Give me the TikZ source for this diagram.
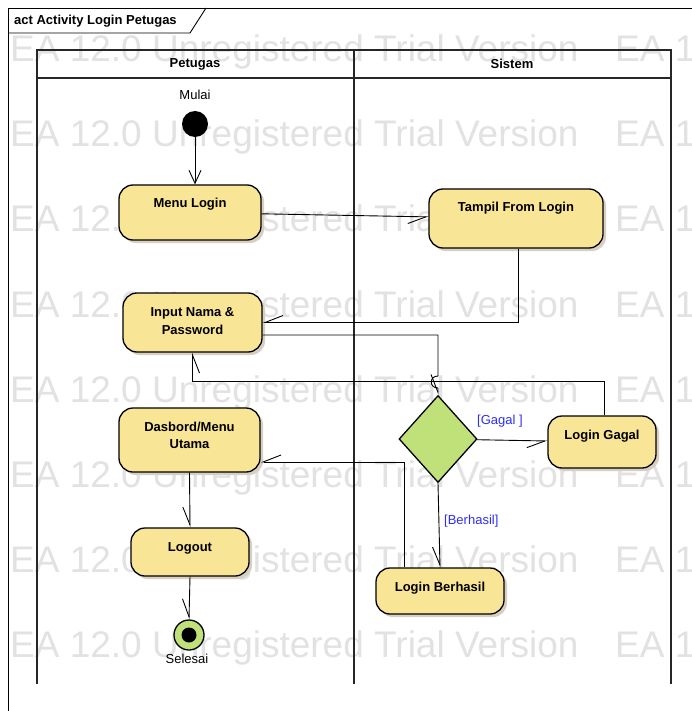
\documentclass[tikz,border=0pt]{standalone}
\usepackage{fontspec}
\newfontfamily\arialf{Liberation Sans}
\usetikzlibrary{arrows.meta,shadows,shapes.geometric}
\definecolor{actfill}{RGB}{249,229,150}
\definecolor{decfill}{RGB}{192,224,122}
\definecolor{shadowc}{RGB}{214,207,196}
\definecolor{wmc}{RGB}{226,226,226}
\definecolor{guardc}{RGB}{45,45,255}
\begin{document}
\begin{tikzpicture}[x=1pt,y=-1pt,
  act/.style={draw=black, line width=1.3pt, fill=actfill, rounded corners=14pt, inner sep=0pt,
    drop shadow={shadow xshift=3pt, shadow yshift=-3pt, fill=shadowc, opacity=1}},
  acttext/.style={font=\arialf\bfseries\fontsize{13}{17.5}\selectfont, align=center, inner sep=0pt},
  plain/.style={font=\arialf\fontsize{13}{16}\selectfont, inner sep=0pt},
  guard/.style={font=\arialf\fontsize{13}{16}\selectfont, text=guardc, inner sep=0pt},
  wm/.style={font=\arialf\fontsize{37}{37}\selectfont, text=wmc, inner sep=0pt, anchor=base west},
  lane/.style={draw=black!85, line width=1.3pt},
  frame/.style={draw=black, line width=0.9pt},
  flow/.style={draw=black, line width=0.9pt, -{Straight Barb[harpoon, swap, length=18pt, width=14pt]}},
  startflow/.style={draw=black, line width=0.9pt, -{Straight Barb[length=13pt, width=12pt]}}
]
\fill[white] (0,0) rectangle (692,711);
\useasboundingbox (0,0) rectangle (692,711);

% watermark
\foreach \i in {0,...,7} {
  \node[wm] (wmA\i) at (10,{62+85*\i}) {EA 12.0 Unregistered Trial Version};
  \node[wm] (wmB\i) at (615,{62+85*\i}) {EA 1};
}

% frame
\draw[frame] (8,711) -- (8,8) -- (692,8);
\draw[frame] (8,33) -- (190,33) -- (206,8);
\node[font=\arialf\bfseries\fontsize{13}{16}\selectfont, anchor=west, inner sep=0pt] (title) at (14,21) {act Activity Login Petugas};

% lanes
\draw[lane] (37,684) -- (37,50) -- (671,50) -- (671,684);
\draw[lane] (354,50) -- (354,684);
\draw[lane] (37,78) -- (671,78);
\node[font=\arialf\bfseries\fontsize{13}{16}\selectfont, inner sep=0pt] (lane1) at (195,64) {Petugas};
\node[font=\arialf\bfseries\fontsize{13}{16}\selectfont, inner sep=0pt] (lane2) at (512,64) {Sistem};

% initial
\node[plain] (mulai) at (195,95) {Mulai};
\node[circle, fill=black, minimum size=26pt, inner sep=0pt] (init) at (195,124) {};

% activities
\node[act, minimum width=142pt, minimum height=55pt] (menu) at (190,212.5) {};
\node[acttext] (menuT) at (190,204) {Menu Login};
\node[act, minimum width=174pt, minimum height=59pt] (tampil) at (516,218.5) {};
\node[acttext] (tampilT) at (516,208) {Tampil From Login};
\node[act, minimum width=139pt, minimum height=59pt] (input) at (192.5,322.5) {};
\node[acttext] (inputT) at (192.5,321) {Input Nama \&\\Password};
\node[act, minimum width=141pt, minimum height=64pt] (dasbord) at (189.5,440) {};
\node[acttext] (dasbordT) at (189.5,435.5) {Dasbord/Menu\\Utama};
\node[act, minimum width=118pt, minimum height=48pt] (logout) at (190,552) {};
\node[acttext] (logoutT) at (190,548) {Logout};
\node[act, minimum width=108pt, minimum height=52pt] (gagal) at (602,442) {};
\node[acttext] (gagalT) at (602,436) {Login Gagal};
\node[act, minimum width=128pt, minimum height=46pt] (berhasil) at (440,591) {};
\node[acttext] (berhasilT) at (440,588) {Login Berhasil};

% decision
\node[diamond, draw=black, line width=1.3pt, fill=decfill, minimum width=78pt, minimum height=87pt, inner sep=0pt] (dec) at (438,439) {};

% final
\node[circle, draw=black, line width=1.3pt, fill=decfill, minimum size=30pt, inner sep=0pt] (final) at (189,635) {};
\node[circle, fill=black, minimum size=15pt, inner sep=0pt] (finalIn) at (189,635) {};
\node[plain] (selesai) at (187,659) {Selesai};

% guards
\node[guard, anchor=west] (gg) at (477,421) {[Gagal ]};
\node[guard, anchor=west] (gb) at (444,521) {[Berhasil]};

% connectors
\coordinate (hopA) at (438,376);
\coordinate (hopB) at (438,388);
\draw[startflow] (init.south) -- (init.south |- menu.north);
\draw[flow] (menu) -- (tampil);
\draw[flow] ([xshift=2pt]tampil.south) |- (input.east);
\draw[flow] ([yshift=-12.5pt]input.east) -| (hopA) .. controls (429,376) and (429,388) .. (hopB) -- (dec.north);
\draw[flow] (dec) -- (gagal);
\draw[flow] (dec.south) -- (berhasil.north);
\draw[flow] ([xshift=2pt]gagal.north) -- ++(0,-34) -| (input.south);
\draw[flow] ([xshift=-36pt]berhasil.north) |- ([yshift=-22pt]dasbord.east);
\draw[flow] (dasbord.south) -- (logout.north);
\draw[flow] (logout.south) -- (final.north);
\end{tikzpicture}
\end{document}
